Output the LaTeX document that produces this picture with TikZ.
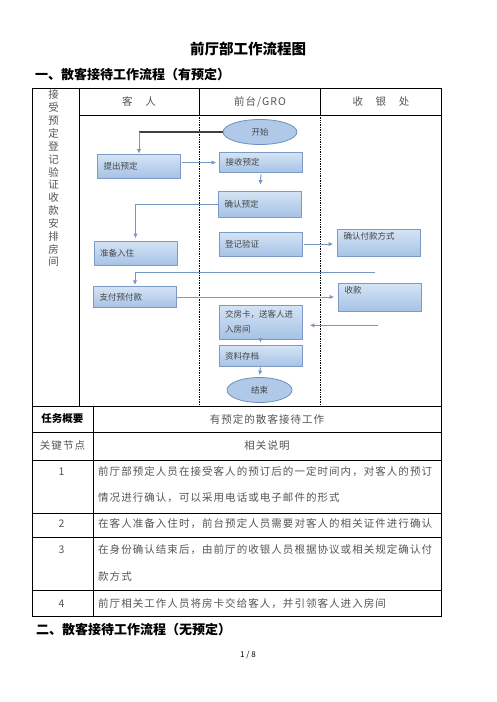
\documentclass[tikz,border=0pt]{standalone}
\usepackage{fontspec}
\setmainfont{Noto Sans CJK SC}
\newfontfamily\spacedcjk[LetterSpace=10]{Noto Sans CJK SC}
\usetikzlibrary{shapes.geometric,arrows.meta}

\definecolor{boxline}{HTML}{7C9AC4}
\definecolor{boxtop}{HTML}{D5E4F5}
\definecolor{boxbot}{HTML}{A6C2E5}
\definecolor{flowline}{HTML}{7597C2}
\definecolor{ovalfill}{HTML}{B0C9E8}
\definecolor{ovalline}{HTML}{6F8FBF}
\definecolor{inkgray}{HTML}{454545}
\definecolor{textgray}{HTML}{555555}

\tikzset{
  tabline/.style={line width=0.8pt},
  lane/.style={line width=0.7pt, densely dotted},
  stepbox/.style={draw=boxline, line width=0.8pt, top color=boxtop, bottom color=boxbot,
    minimum height=24pt, text width=71pt, inner xsep=6pt, inner ysep=3pt, align=left,
    font=\fontsize{8.5}{16}\selectfont, text=inkgray},
  topbox/.style={text height=7pt},
  endpoint/.style={ellipse, draw=ovalline, line width=0.8pt, fill=ovalfill, minimum width=74pt,
    minimum height=25pt, inner sep=0pt, font=\fontsize{8.5}{10}\selectfont, text=inkgray},
  flow/.style={draw=flowline, line width=1pt, -{Latex[length=4.5pt,width=4.5pt]}},
  darkline/.style={draw=black!75, line width=1.2pt},
  celltext/.style={inner sep=0pt, text=textgray, font=\spacedcjk\fontsize{10.5}{12}\selectfont},
  rowtext/.style={celltext, anchor=west},
  heading/.style={inner sep=0pt, anchor=west, font=\bfseries\fontsize{13}{15}\selectfont}
}

\begin{document}
\begin{tikzpicture}[x=1pt,y=-1pt]
  \useasboundingbox[fill=white] (0,0) rectangle (496,702);

  \node[inner sep=0pt, font=\bfseries\fontsize{14.5}{16}\selectfont] (title) at (248,49) {前厅部工作流程图};
  \node[heading] (sec1) at (35,74.5) {一、散客接待工作流程（有预定）};

  %frame
  \draw[tabline] (32,88) rectangle (441,616.7);
  \draw[tabline] (79,88) -- (79,406);
  \draw[tabline] (79,115) -- (441,115);
  \draw[tabline] (199,88) -- (199,115);
  \draw[tabline] (320,88) -- (320,115);
  \draw[tabline] (32,406) -- (441,406);
  \draw[tabline] (93,406) -- (93,616.7);
  \foreach \y in {432.3,460,513.3,537.3,590.7}
     \draw[tabline] (32,\y) -- (441,\y);
  %lanes
  \draw[lane] (199,115) -- (199,406);
  \draw[lane] (320,115) -- (320,406);

  %side text
  \foreach \c [count=\i from 0] in {接,受,预,定,登,记,验,证,收,款,安,排,房,间}
     \node[celltext] (side\i) at (53.5,95+12.85*\i) {\c};

  \node[celltext] (hguest) at (139,101.5) {客　人};
  \node[celltext] (hdesk) at (260,101.5) {前台/GRO};
  \node[celltext] (hcash) at (381,101.5) {收　银　处};

  %flow
  \node[endpoint] (start) at (260,132) {开始};
  \node[stepbox] (ask) at (139,166) {提出预定};
  \node[stepbox, minimum height=20pt] (take) at (261,162.5) {接收预定};
  \node[stepbox, minimum height=26pt] (confirm) at (260,204) {确认预定};
  \node[stepbox] (ready) at (135.5,253) {准备入住};
  \node[stepbox] (check) at (260.5,244) {登记验证};
  \node[stepbox, topbox, text depth=14.5pt] (payway) at (379,243) {确认付款方式};
  \node[stepbox, minimum height=21.5pt] (prepay) at (135,297) {支付预付款};
  \node[stepbox, topbox, text depth=15pt] (collect) at (380,297.5) {收款};
  \node[stepbox, minimum height=34pt, font=\fontsize{8.5}{15}\selectfont] (card) at (260.5,322) {交房卡，送客人进\\入房间};
  \node[stepbox, minimum height=21pt] (archive) at (260.5,356) {资料存档};
  \node[endpoint, minimum width=65pt] (finish) at (259.5,390) {结束};

  \coordinate (askin) at (ask.north |- start.west);
  \draw[darkline] (start.west) -- (askin);
  \draw[flow] (askin) -- (ask.north);
  \draw[flow, shorten <=1.5pt, shorten >=3pt] (ask.east |- take.west) -- (take.west);
  \draw[flow, shorten <=1.5pt, shorten >=6pt] (take.south) -- (confirm.north);
  \draw[flow, shorten >=2.5pt] (confirm.west) -| (ready.north);
  \draw[flow, shorten <=1.5pt, shorten >=4pt] (check.east) -- (check.east -| payway.west);
  \coordinate (cashback) at (375,272.3);
  \draw[flow, shorten >=1pt] (cashback) -| (prepay.north);
  \draw[flow, shorten >=4pt] (prepay.east) -- (prepay.east -| collect.west);
  \coordinate (cardback) at (378,325.3);
  \draw[flow, shorten >=7.5pt] (cardback) -- (cardback -| card.east);
  \draw[flow, shorten <=0.5pt, shorten >=2.5pt] (card.south) -- (archive.north);
  \draw[flow, shorten <=0.5pt, shorten >=2pt] (archive.south) -- (finish.north);

  %summary table
  \node[inner sep=0pt, font=\bfseries\fontsize{10.5}{12}\selectfont] (task) at (62.5,419) {任务概要};
  \node[celltext] (tasktext) at (267,419) {有预定的散客接待工作};
  \node[celltext] (keyhead) at (62.5,446) {关键节点};
  \node[celltext] (notehead) at (267,446) {相关说明};
  \foreach \n/\y in {1/471.7,2/524,3/550,4/603.3}
     \node[celltext] (num\n) at (61.5,\y) {\n};
  \node[rowtext] (row1a) at (98,471.7) {前厅部预定人员在接受客人的预订后的一定时间内，对客人的预订};
  \node[rowtext] (row1b) at (98,497.3) {情况进行确认，可以采用电话或电子邮件的形式};
  \node[rowtext] (row2) at (98,524) {在客人准备入住时，前台预定人员需要对客人的相关证件进行确认};
  \node[rowtext] (row3a) at (98,550) {在身份确认结束后，由前厅的收银人员根据协议或相关规定确认付};
  \node[rowtext] (row3b) at (98,576.7) {款方式};
  \node[rowtext] (row4) at (98,603.3) {前厅相关工作人员将房卡交给客人，并引领客人进入房间};

  \node[heading] (sec2) at (36,630) {二、散客接待工作流程（无预定）};
  \node[inner sep=0pt, font=\fontsize{8}{9}\selectfont] (page) at (248,655) {1 / 8};
\end{tikzpicture}
\end{document}
